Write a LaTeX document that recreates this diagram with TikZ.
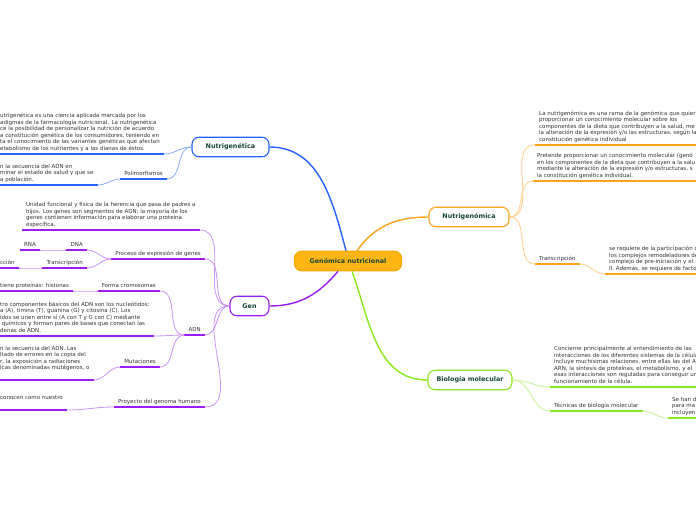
\documentclass[tikz,border=0pt]{standalone}
\usepackage{fontspec}
\setmainfont{DejaVu Sans}
\usepackage{tikz}
\usetikzlibrary{positioning}
\usepackage{xcolor}

\definecolor{mBlue}{RGB}{38,98,255}
\definecolor{lBlue}{RGB}{140,170,255}
\definecolor{mPurple}{RGB}{155,30,240}
\definecolor{lPurple}{RGB}{203,145,250}
\definecolor{mOrange}{RGB}{255,163,26}
\definecolor{lOrange}{RGB}{255,206,135}
\definecolor{mGreen}{RGB}{138,232,30}
\definecolor{lGreen}{RGB}{196,245,140}
\definecolor{amber}{RGB}{253,182,20}
\definecolor{amberDark}{RGB}{248,168,0}
\definecolor{ttl}{RGB}{22,70,55}
\definecolor{txt}{RGB}{51,51,51}

\begin{document}
\begin{tikzpicture}[x=1pt, y=1pt,
  topic/.style={draw=#1, line width=1.1pt, fill=white, rounded corners=7pt,
    minimum height=19.5pt, inner xsep=5pt, font=\fontsize{6.4}{7}\selectfont\bfseries, text=ttl},
  sub/.style={font=\fontsize{5.5}{6.5}\selectfont, text=txt, align=left,
    inner xsep=4pt, inner ysep=2.4pt, text depth=1pt},
  lnk/.style={#1, line width=0.8pt},
  mlnk/.style={#1, line width=1.4pt}]

  \useasboundingbox (0,0) rectangle (696,-520);
  \clip (0,0) rectangle (696,-520);
  \fill[white] (0,0) rectangle (696,-520);

  % main topics
  \node[topic=amberDark, fill=amber, minimum width=107pt] (gn) at (348,-261) {Genómica nutricional};
  \node[topic=mBlue, minimum width=77pt] (ngt) at (230.5,-147) {Nutrigenética};
  \node[topic=mPurple, minimum width=39pt] (gen) at (249.5,-306) {Gen};
  \node[topic=mOrange, minimum width=80pt] (ngm) at (469,-217) {Nutrigenómica};
  \node[topic=mGreen, minimum width=84pt] (bio) at (470,-380) {Biología molecular};

  \draw[mlnk=mBlue] ([xshift=-2pt]gn.north) to[out=105,in=0] (ngt.east);
  \draw[mlnk=mPurple] ([xshift=-10pt]gn.south) to[out=-130,in=0] (gen.east);
  \draw[mlnk=mOrange] ([xshift=9pt]gn.north) to[out=55,in=180] (ngm.west);
  \draw[mlnk=mGreen] ([xshift=4pt]gn.south) to[out=-70,in=180] (bio.west);

  % Nutrigenetica
  \node[sub, anchor=south west] (ngt1) at (-4,-154) {utrigenética es una ciencia aplicada marcada por los\\adigmas de la farmacología nutricional. La nutrigenética\\ce la posibilidad de personalizar la nutrición de acuerdo\\a constitución genética de los consumidores, teniendo en\\ta el conocimiento de las variantes genéticas que afectan\\etabolismo de los nutrientes y a las dianas de éstos.};
  \node[sub, anchor=south east] (pol) at (167,-179) {Polimorfismos};
  \node[sub, anchor=south west] (pol1) at (-4,-185) {n la secuencia del ADN en\\minar el estado de salud y que se\\a población.};

  % Gen
  \node[sub, anchor=south west] (unid) at (22,-230) {Unidad funcional y física de la herencia que pasa de padres a\\hijos. Los genes son segmentos de ADN; la mayoría de los\\genes contienen información para elaborar una proteína\\específica.};
  \node[sub, anchor=south east] (proc) at (205,-259) {Proceso de expresión de genes};
  \node[sub, anchor=south east] (dna) at (87,-250) {DNA};
  \node[sub, anchor=south east] (rna) at (40,-250) {RNA};
  \node[sub, anchor=south east] (trans) at (87,-268) {Transcripción};
  \node[sub, anchor=south west] (ccion) at (-4,-268) {cción};
  \node[sub, anchor=south east] (forma) at (160,-291) {Forma cromosomas};
  \node[sub, anchor=south west] (hist) at (-4,-291) {tiene proteínas: histonas};
  \node[sub, anchor=south east] (adn) at (205,-335) {ADN};
  \node[sub, anchor=south west] (nucl) at (-4,-336) {tro componentes básicos del ADN son los nucleótidos:\\a (A), timina (T), guanina (G) y citosina (C). Los\\idos se unen entre sí (A con T y G con C) mediante\\\ químicos y forman pares de bases que conectan las\\denas de ADN.};
  \node[sub, anchor=south east] (mut) at (160,-367) {Mutaciones};
  \node[sub, anchor=south west] (mut1) at (-4,-380) {n la secuencia del ADN. Las\\ltado de errores en la copia del\\r, la exposición a radiaciones\\icas denominadas mutágenos, o\\\mbox{}};
  \node[sub, anchor=south east] (proy) at (205,-407) {Proyecto del genoma humano};
  \node[sub, anchor=south west] (proy1) at (-4,-410) {conocen como nuestro\\\mbox{}};

  % Nutrigenomica
  \node[sub, anchor=south west] (ngm1) at (535,-145) {La nutrigenómica es una rama de la genómica que quier\\proporcionar un conocimiento molecular sobre los\\componentes de la dieta que contribuyen a la salud, me\\la alteración de la expresión y/o las estructuras, según la\\constitución genética individual};
  \node[sub, anchor=south west] (ngm2) at (533,-181) {Pretende proporcionar un conocimiento molecular (genó\\en los componentes de la dieta que contribuyen a la salu\\mediante la alteración de la expresión y/o estructuras, s\\la constitución genética individual.};
  \node[sub, anchor=south west] (trs) at (535,-264) {Transcripción};
  \node[sub, anchor=south west] (trs1) at (605,-274) {se requiere de la participación d\\los complejos remodeladores de\\complejo de pre-iniciación y el\\II. Además, se requiere de facto};

  % Biologia molecular
  \node[sub, anchor=south west] (bio1) at (550,-387) {Concierne principalmente al entendimiento de las\\interacciones de los diferentes sistemas de la célula\\incluye muchísimas relaciones, entre ellas las del A\\ARN, la síntesis de proteínas, el metabolismo, y el\\esas interacciones son reguladas para conseguir un\\funcionamiento de la célula.};
  \node[sub, anchor=south west] (tec) at (550,-411) {Técnicas de biología molecular};
  \node[sub, anchor=south west] (tec1) at (668,-418) {Se han d\\para ma\\incluyen};

  % underlines
  \foreach \n/\c in {ngt1/mBlue, pol/mBlue, pol1/mBlue,
      unid/mPurple, proc/mPurple, dna/mPurple, rna/mPurple, trans/mPurple, ccion/mPurple,
      forma/mPurple, hist/mPurple, adn/mPurple, nucl/mPurple, mut/mPurple, mut1/mPurple,
      proy/mPurple, proy1/mPurple,
      ngm1/mOrange, ngm2/mOrange, trs/mOrange, trs1/mOrange,
      bio1/mGreen, tec/mGreen, tec1/mGreen} {
    \draw[line width=1.6pt, \c] (\n.south west) -- (\n.south east);
  }

  % links
  \draw[lnk=lBlue] (ngt.west) to[out=180,in=0] (ngt1.south east);
  \draw[lnk=lBlue] (ngt.west) to[out=180,in=0] (pol.south east);
  \draw[lnk=lBlue] (pol.south west) to[out=180,in=0] (pol1.south east);

  \foreach \t in {unid, proc, adn, proy}
    \draw[lnk=lPurple] (gen.west) to[out=180,in=0] (\t.south east);
  \draw[lnk=lPurple] (proc.south west) to[out=180,in=0] (dna.south east);
  \draw[lnk=lPurple] (dna.south west) to[out=180,in=0] (rna.south east);
  \draw[lnk=lPurple] (proc.south west) to[out=180,in=0] (trans.south east);
  \draw[lnk=lPurple] (trans.south west) to[out=180,in=0] (ccion.south east);
  \foreach \t in {forma, nucl, mut}
    \draw[lnk=lPurple] (adn.south west) to[out=180,in=0] (\t.south east);
  \draw[lnk=lPurple] (forma.south west) to[out=180,in=0] (hist.south east);
  \draw[lnk=lPurple] (mut.south west) to[out=180,in=0] (mut1.south east);
  \draw[lnk=lPurple] (proy.south west) to[out=180,in=0] (proy1.south east);

  \foreach \t in {ngm1, ngm2, trs}
    \draw[lnk=lOrange] (ngm.east) to[out=0,in=180] (\t.south west);
  \draw[lnk=lOrange] (trs.south east) to[out=0,in=180] (trs1.south west);

  \foreach \t in {bio1, tec}
    \draw[lnk=lGreen] (bio.east) to[out=0,in=180] (\t.south west);
  \draw[lnk=lGreen] (tec.south east) to[out=0,in=180] (tec1.south west);
\end{tikzpicture}
\end{document}
